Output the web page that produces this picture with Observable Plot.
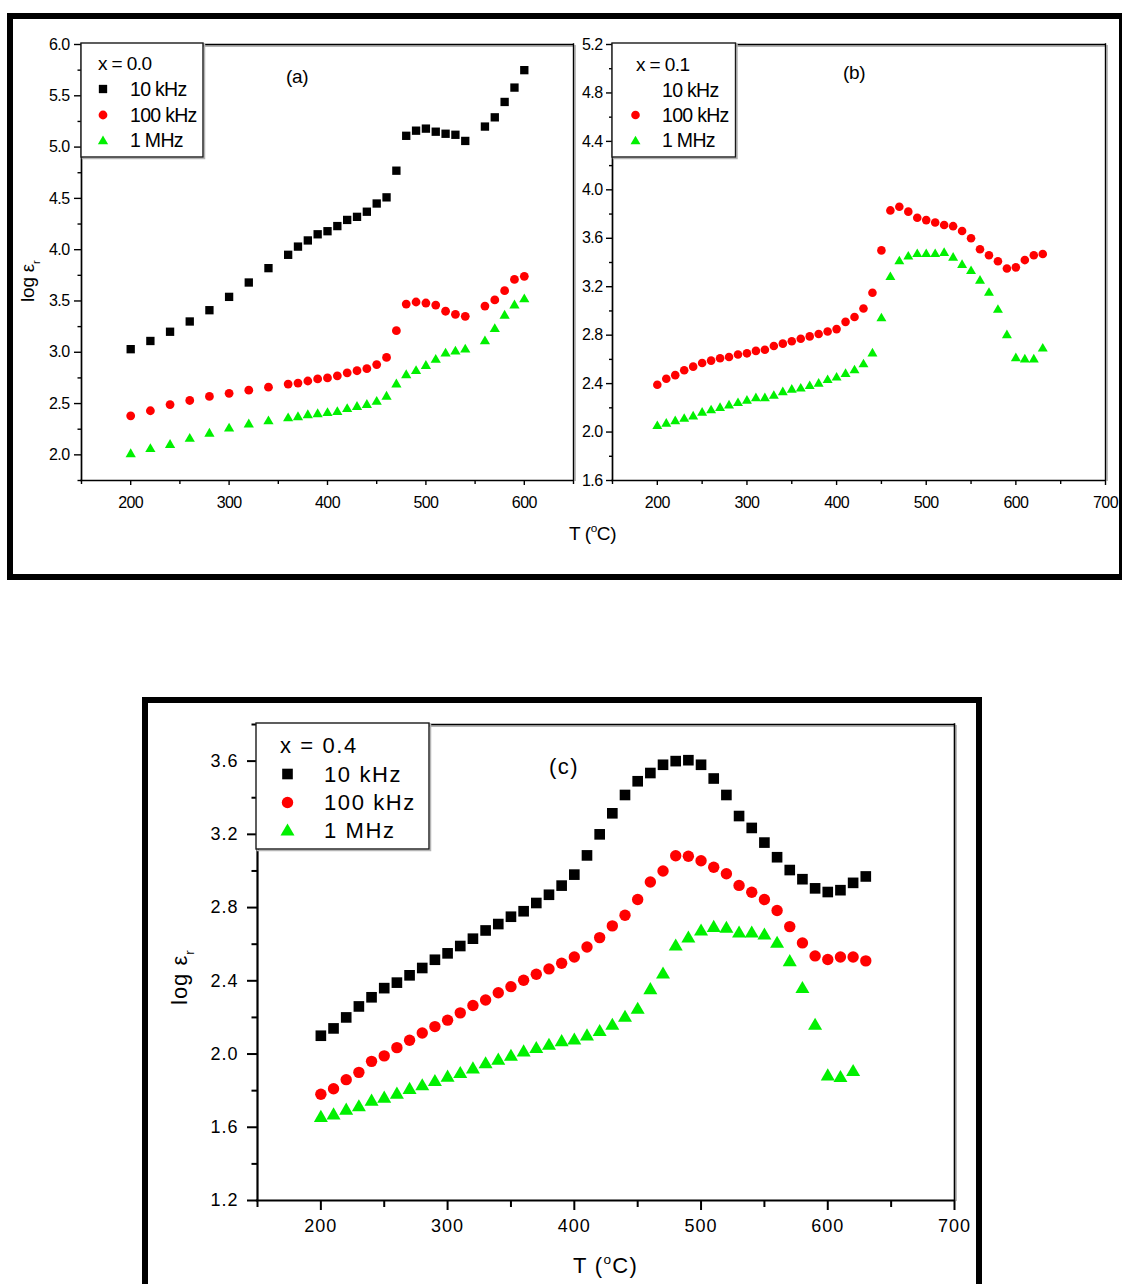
<!DOCTYPE html>
<html>
<head>
<meta charset="utf-8">
<script src="https://cdn.jsdelivr.net/npm/d3@7"></script>
<script src="https://cdn.jsdelivr.net/npm/@observablehq/plot@0.6"></script>
<style>
  html, body { margin: 0; padding: 0; background: #fff; }
  #root { position: relative; width: 1122px; height: 1284px; overflow: hidden; background: #fff;
          font-family: "Liberation Sans", Arial, sans-serif; color: #000; }
  .box { position: absolute; border: 6px solid #000; box-sizing: border-box; }
  .panel { position: absolute; }
  .panel svg { display: block; max-width: none !important; }
</style>
</head>
<body>
<div id="root">
  <div class="box" style="left:7px;top:13px;width:1117px;height:567px;border-right-width:5px;"></div>
  <div class="box" style="left:142px;top:697px;width:840px;height:700px;"></div>
</div>
<script>
// ---------------- DATA ----------------
// Panel (a): x = 0.0
const tA = [200,220,240,260,280,300,320,340,360,370,380,390,400,410,420,430,440,450,460,470,480,490,500,510,520,530,540,560,570,580,590,600];
const a10k  = [3.03,3.11,3.20,3.30,3.41,3.54,3.68,3.82,3.95,4.03,4.09,4.15,4.18,4.23,4.29,4.32,4.37,4.45,4.51,4.77,5.11,5.16,5.18,5.15,5.13,5.12,5.06,5.20,5.29,5.44,5.58,5.75];
const a100k = [2.38,2.43,2.49,2.53,2.57,2.60,2.63,2.66,2.69,2.70,2.72,2.74,2.75,2.77,2.80,2.82,2.84,2.88,2.95,3.21,3.47,3.49,3.48,3.46,3.40,3.37,3.35,3.45,3.51,3.60,3.71,3.74];
const a1M   = [2.02,2.07,2.11,2.17,2.22,2.27,2.31,2.34,2.37,2.38,2.40,2.41,2.42,2.43,2.46,2.48,2.50,2.53,2.58,2.70,2.79,2.83,2.88,2.94,3.00,3.02,3.04,3.12,3.24,3.37,3.47,3.53];

// Panel (b): x = 0.1
const tB = [200,210,220,230,240,250,260,270,280,290,300,310,320,330,340,350,360,370,380,390,400,410,420,430,440,450,460,470,480,490,500,510,520,530,540,550,560,570,580,590,600,610,620,630];
const b100k = [2.39,2.44,2.47,2.51,2.54,2.57,2.59,2.61,2.62,2.64,2.65,2.67,2.68,2.71,2.73,2.75,2.77,2.79,2.81,2.83,2.85,2.91,2.95,3.02,3.15,3.50,3.83,3.86,3.82,3.77,3.75,3.73,3.71,3.70,3.66,3.60,3.51,3.46,3.41,3.35,3.36,3.42,3.46,3.47];
const b1M   = [2.06,2.08,2.10,2.12,2.14,2.17,2.19,2.21,2.23,2.25,2.27,2.29,2.29,2.31,2.34,2.36,2.37,2.39,2.41,2.44,2.46,2.49,2.52,2.57,2.66,2.95,3.29,3.42,3.46,3.48,3.48,3.48,3.49,3.45,3.39,3.34,3.26,3.16,3.02,2.81,2.62,2.61,2.61,2.70];

// Panel (c): x = 0.4
const tC = [200,210,220,230,240,250,260,270,280,290,300,310,320,330,340,350,360,370,380,390,400,410,420,430,440,450,460,470,480,490,500,510,520,530,540,550,560,570,580,590,600,610,620,630];
const c10k  = [2.10,2.14,2.20,2.26,2.31,2.36,2.39,2.43,2.47,2.515,2.55,2.59,2.63,2.675,2.71,2.75,2.78,2.825,2.87,2.92,2.98,3.085,3.20,3.315,3.415,3.49,3.535,3.58,3.60,3.605,3.58,3.505,3.415,3.30,3.235,3.155,3.075,3.005,2.955,2.905,2.885,2.895,2.935,2.97];
const c100k = [1.78,1.81,1.86,1.90,1.96,1.99,2.035,2.075,2.115,2.15,2.185,2.225,2.265,2.295,2.335,2.368,2.403,2.436,2.465,2.496,2.53,2.585,2.636,2.70,2.758,2.844,2.94,3.00,3.083,3.08,3.056,3.02,2.985,2.921,2.884,2.844,2.784,2.696,2.607,2.536,2.516,2.53,2.53,2.509];
const tC1M  = [200,210,220,230,240,250,260,270,280,290,300,310,320,330,340,350,360,370,380,390,400,410,420,430,440,450,460,470,480,490,500,510,520,530,540,550,560,570,580,590,600,610,620];
const c1M   = [1.662,1.676,1.702,1.72,1.751,1.767,1.789,1.815,1.835,1.858,1.882,1.902,1.927,1.955,1.975,1.996,2.02,2.038,2.056,2.076,2.085,2.107,2.131,2.165,2.209,2.253,2.36,2.445,2.598,2.642,2.68,2.70,2.695,2.669,2.669,2.658,2.613,2.513,2.366,2.165,1.889,1.88,1.913];

// Tick values
const xTicksAMajor = [200,300,400,500,600];
const xTicksAMinor = [150,250,350,450,550,650];
const yTicksAMajor = [2.0,2.5,3.0,3.5,4.0,4.5,5.0,5.5,6.0];
const yTicksAMinor = [1.75,2.25,2.75,3.25,3.75,4.25,4.75,5.25,5.75];
const xTicksBMajor = [200,300,400,500,600,700];
const xTicksBMinor = [150,250,350,450,550,650];
const yTicksBMajor = [1.6,2.0,2.4,2.8,3.2,3.6,4.0,4.4,4.8,5.2];
const yTicksBMinor = [1.8,2.2,2.6,3.0,3.4,3.8,4.2,4.6,5.0];
const xTicksCMajor = [200,300,400,500,600,700];
const xTicksCMinor = [150,250,350,450,550,650];
const yTicksCMajor = [1.2,1.6,2.0,2.4,2.8,3.2,3.6];
const yTicksCMinor = [1.4,1.8,2.2,2.6,3.0,3.4,3.8];

const seriesLabels = ["10 kHz", "100 kHz", "1 MHz"];
const compLabels = ["x = 0.0", "x = 0.1", "x = 0.4"];
const panelLabels = ["(a)", "(b)", "(c)"];

// ---------------- DRAW ----------------
const FONT = "'Liberation Sans', Arial, Helvetica, sans-serif";
const BLACK = "#000000", RED = "#ff0000", GREEN = "#00f000";
const rows = (t, v) => t.map((T, i) => ({T, v: v[i]}));

function makePanel(c) {
  const marks = [
    Plot.axisY(c.yMinor, {anchor: "left", tickSize: c.yMinorLen, text: null, strokeWidth: c.tickW, label: null}),
    Plot.axisY(c.yMajor, {anchor: "left", tickSize: c.yMajorLen, tickPadding: c.yPad, tickFormat: d3.format(".1f"),
      fontSize: c.fs, strokeWidth: c.tickW, label: null}),
    Plot.axisX(c.xMinor, {anchor: "bottom", tickSize: c.xMinorLen, text: null, strokeWidth: c.tickW, label: null}),
    Plot.axisX(c.xMajor, {anchor: "bottom", tickSize: c.xMajorLen, tickPadding: c.xPad, tickFormat: d3.format("d"),
      fontSize: c.fs, strokeWidth: c.tickW, label: null}),
    // shadow of top/right frame
    Plot.ruleX([c.xDomain[1]], {dx: 1.6, dy: 1, stroke: "#b4b4b4", strokeWidth: 1.6}),
    Plot.ruleY([c.yDomain[1]], {dy: 1.6, dx: 1, stroke: "#b4b4b4", strokeWidth: 1.6}),
    Plot.ruleX([c.xDomain[1]], {stroke: BLACK, strokeWidth: c.frameW, strokeLinecap: "square"}),
    Plot.ruleY([c.yDomain[1]], {stroke: BLACK, strokeWidth: c.frameW, strokeLinecap: "square"}),
    Plot.ruleX([c.xDomain[0]], {stroke: BLACK, strokeWidth: c.axisW, strokeLinecap: "square"}),
    Plot.ruleY([c.yDomain[0]], {stroke: BLACK, strokeWidth: c.axisW, strokeLinecap: "square"}),
    ...c.series.map(s => Plot.dot(rows(s.t, s.v), {x: "T", y: "v", symbol: s.symbol, fill: s.fill, stroke: "none", r: s.r, dy: s.dy || 0}))
  ];
  const svg = Plot.plot({
    width: c.width, height: c.height,
    marginLeft: c.ml, marginRight: c.mr, marginTop: c.mt, marginBottom: c.mb,
    x: {type: "linear", domain: c.xDomain},
    y: {type: "linear", domain: c.yDomain},
    style: {background: "none", overflow: "visible", fontFamily: FONT, color: "#000", letterSpacing: c.ls + "px"},
    marks
  });
  const holder = document.createElement("div");
  holder.className = "panel";
  holder.style.left = c.left + "px";
  holder.style.top = c.top + "px";
  holder.appendChild(svg);
  document.getElementById("root").appendChild(holder);
}

makePanel({
  left: 31, top: 34, width: 552, height: 486, ml: 50, mr: 10, mt: 10, mb: 40,
  xDomain: [150, 650], yDomain: [1.75, 6.0],
  xMajor: xTicksAMajor, xMinor: xTicksAMinor, yMajor: yTicksAMajor, yMinor: yTicksAMinor,
  yMajorLen: 7, yMinorLen: 3.5, xMajorLen: 5, xMinorLen: 4, yPad: 5, xPad: 11,
  tickW: 1.4, frameW: 1.4, axisW: 1.7, fs: 16, ls: -0.6,
  series: [
    {t: tA, v: a10k,  symbol: "square",   fill: BLACK, r: 4.7},
    {t: tA, v: a100k, symbol: "circle",   fill: RED,   r: 4.4},
    {t: tA, v: a1M,   symbol: "triangle", fill: GREEN, r: 3.8, dy: 1.4}
  ]
});

makePanel({
  left: 572, top: 34, width: 563, height: 486, ml: 40, mr: 30, mt: 10, mb: 40,
  xDomain: [150, 700], yDomain: [1.6, 5.2],
  xMajor: xTicksBMajor, xMinor: xTicksBMinor, yMajor: yTicksBMajor, yMinor: yTicksBMinor,
  yMajorLen: 6, yMinorLen: 3, xMajorLen: 5, xMinorLen: 4, yPad: 4, xPad: 11,
  tickW: 1.4, frameW: 1.4, axisW: 1.7, fs: 16, ls: -0.6,
  series: [
    {t: tB, v: b100k, symbol: "circle",   fill: RED,   r: 4.3},
    {t: tB, v: b1M,   symbol: "triangle", fill: GREEN, r: 3.7, dy: 1.4}
  ]
});

makePanel({
  left: 207, top: 714, width: 757, height: 526, ml: 50, mr: 10, mt: 10, mb: 40,
  xDomain: [150, 700], yDomain: [1.2, 3.8],
  xMajor: xTicksCMajor, xMinor: xTicksCMinor, yMajor: yTicksCMajor, yMinor: yTicksCMinor,
  yMajorLen: 10, yMinorLen: 5.5, xMajorLen: 10, xMinorLen: 7, yPad: 9, xPad: 9,
  tickW: 2, frameW: 1.6, axisW: 2.2, fs: 18, ls: 1,
  series: [
    {t: tC,   v: c10k,  symbol: "square",   fill: BLACK, r: 6.0},
    {t: tC,   v: c100k, symbol: "circle",   fill: RED,   r: 5.7},
    {t: tC1M, v: c1M,   symbol: "triangle", fill: GREEN, r: 5.2, dy: 2}
  ]
});

// ---------------- ANNOTATIONS (legends, labels, axis titles) ----------------
const ov = d3.select("#root").append("svg")
  .attr("width", 1122).attr("height", 1284)
  .style("position", "absolute").style("left", "0px").style("top", "0px")
  .style("pointer-events", "none")
  .attr("font-family", FONT);

function txt(x, y, s, size, ls, g = ov) {
  return g.append("text").attr("x", x).attr("y", y).attr("font-size", size)
    .attr("letter-spacing", ls).attr("fill", "#000").text(s);
}
function sym(type, x, y, r, fill, dy = 0) {
  ov.append("path").attr("transform", `translate(${x},${y + dy})`)
    .attr("d", d3.symbol().type(type).size(Math.PI * r * r)()).attr("fill", fill);
}
function legendBox(x, y, w, h) {
  ov.append("rect").attr("x", x + 1.5).attr("y", y + 1.5).attr("width", w).attr("height", h)
    .attr("fill", "none").attr("stroke", "#b4b4b4").attr("stroke-width", 1.5);
  ov.append("rect").attr("x", x).attr("y", y).attr("width", w).attr("height", h)
    .attr("fill", "#fff").attr("stroke", "#1a1a1a").attr("stroke-width", 1.4);
}

// Legend (a)
legendBox(81, 43, 122, 114);
txt(98, 70, compLabels[0], 19, -0.6);
sym(d3.symbolSquare, 103, 89, 4.7, BLACK); txt(130, 96, seriesLabels[0], 19.5, -0.7);
sym(d3.symbolCircle, 103, 115, 4.4, RED);  txt(130, 122, seriesLabels[1], 19.5, -0.7);
sym(d3.symbolTriangle, 103, 140, 3.8, GREEN, 1.4); txt(130, 147, seriesLabels[2], 19.5, -0.7);

// Legend (b)
legendBox(612, 43, 123.5, 114);
txt(636, 71, compLabels[1], 19, -0.6);
txt(662, 97, seriesLabels[0], 19.5, -0.7);
sym(d3.symbolCircle, 635.5, 115, 4.3, RED);  txt(662, 122, seriesLabels[1], 19.5, -0.7);
sym(d3.symbolTriangle, 635.5, 140, 3.7, GREEN, 1.4); txt(662, 147, seriesLabels[2], 19.5, -0.7);

// Legend (c)
legendBox(256, 723, 173, 126);
txt(280, 753, compLabels[2], 22, 1.6);
sym(d3.symbolSquare, 287.5, 774, 6.0, BLACK); txt(324, 782, seriesLabels[0], 22, 1.6);
sym(d3.symbolCircle, 287.5, 802.5, 5.7, RED); txt(324, 810, seriesLabels[1], 22, 1.6);
sym(d3.symbolTriangle, 287.5, 829.5, 5.2, GREEN, 2); txt(324, 838, seriesLabels[2], 22, 1.6);

// Panel labels
txt(286, 83, panelLabels[0], 19, -0.3);
txt(843, 79, panelLabels[1], 19, -0.3);
txt(549, 774, panelLabels[2], 22, 1.5);

// X axis titles: T (°C)
function xTitle(x, y, size, ls) {
  const t = ov.append("text").attr("x", x).attr("y", y).attr("font-size", size).attr("letter-spacing", ls);
  t.append("tspan").text("T (");
  t.append("tspan").attr("font-size", size * 0.62).attr("dy", -size * 0.42).text("o");
  t.append("tspan").attr("dy", size * 0.42).text("C)");
}
xTitle(569, 540, 19, -0.4);
xTitle(573, 1273, 22, 1.3);

// Y axis titles: log ε_r (rotated)
function yTitle(x, y, size, ls) {
  const t = ov.append("text").attr("transform", `translate(${x},${y}) rotate(-90)`)
    .attr("font-size", size).attr("letter-spacing", ls);
  t.append("tspan").text("log ε");
  t.append("tspan").attr("font-size", size * 0.6).attr("dy", size * 0.3).text("r");
}
yTitle(34, 302, 19, -0.2);
yTitle(187, 1005, 22, 1);
</script>
</body>
</html>
